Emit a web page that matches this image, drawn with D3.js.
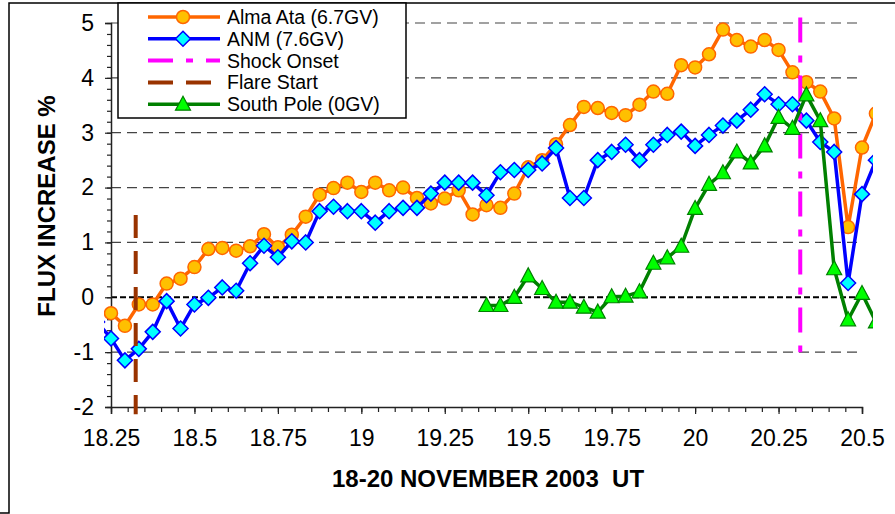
<!DOCTYPE html>
<html>
<head>
<meta charset="utf-8">
<script src="https://cdn.jsdelivr.net/npm/d3@7"></script>
<style>
  body { margin: 0; background: #fff; }
  svg { display: block; }
</style>
</head>
<body>
<div id="chart"></div>
<script>
// hourly samples, hours counted from 18 Nov 2003 00:00 UT
const utHours = [5, 6, 7, 8, 9, 10, 11, 12, 13, 14, 15, 16, 17, 18, 19, 20, 21, 22, 23, 24,
  25, 26, 27, 28, 29, 30, 31, 32, 33, 34, 35, 36, 37, 38, 39, 40, 41, 42, 43, 44,
  45, 46, 47, 48, 49, 50, 51, 52, 53, 54, 55, 56, 57, 58, 59, 60, 61];

const almaAta = [null, -0.29, -0.52, -0.13, -0.13, 0.25, 0.34, 0.55, 0.88, 0.90, 0.85,
  0.93, 1.15, 0.91, 1.14, 1.47, 1.87, 1.99, 2.09, 1.92, 2.09,
  1.95, 2.00, 1.81, 1.71, 1.80, 1.95, 1.51, 1.68, 1.63, 1.89,
  2.37, 2.50, 2.79, 3.14, 3.47, 3.45, 3.36, 3.32, 3.51, 3.75,
  3.71, 4.23, 4.19, 4.43, 4.88, 4.69, 4.57, 4.69, 4.51, 4.10,
  3.92, 3.75, 3.26, 1.28, 2.73, 3.35];

const anm = [-0.45, -0.75, -1.15, -0.94, -0.63, -0.07, -0.57, -0.13, -0.01, 0.18, 0.12,
  0.62, 0.94, 0.73, 1.02, 1.00, 1.57, 1.65, 1.57, 1.57, 1.36,
  1.57, 1.63, 1.63, 1.89, 2.09, 2.09, 2.09, 1.86, 2.28, 2.32,
  2.32, 2.44, 2.72, 1.81, 1.81, 2.50, 2.65, 2.78, 2.50, 2.78,
  2.96, 3.02, 2.76, 2.96, 3.13, 3.22, 3.42, 3.70, 3.52, 3.52,
  3.22, 2.83, 2.65, 0.26, 1.88, 2.50];

const southPole = [null, null, null, null, null, null, null, null, null, null, null,
  null, null, null, null, null, null, null, null, null, null,
  null, null, null, null, null, null, null, -0.15, -0.15, 0.00,
  0.39, 0.16, -0.09, -0.09, -0.18, -0.27, 0.01, 0.02, 0.10, 0.62,
  0.72, 0.93, 1.62, 2.06, 2.27, 2.65, 2.45, 2.76, 3.28, 3.08,
  3.69, 3.22, 0.52, -0.41, 0.07, -0.45];

// vertical event markers (x in days of Nov 2003, y extent in %)
const eventNames = ['Shock Onset', 'Flare Start'];
const eventDays = [20.315, 18.324];
const eventTop = [5.1, 1.5];
const eventBottom = [-1.0, -2.13];

const xTicks = [18.25, 18.5, 18.75, 19, 19.25, 19.5, 19.75, 20, 20.25, 20.5];
const yTicks = [-2, -1, 0, 1, 2, 3, 4, 5];
const legendNames = ['Alma Ata (6.7GV)', 'ANM (7.6GV)', 'Shock Onset', 'Flare Start', 'South Pole (0GV)'];

const W = 895, H = 514;
const font = 'Arial, "Liberation Sans", sans-serif';

const svg = d3.select('#chart').append('svg')
  .attr('width', W).attr('height', H)
  .style('font-family', font);

const xScale = d3.scaleLinear().domain([18.25, 20.5]).range([111, 862]);
const yScale = d3.scaleLinear().domain([-2, 5]).range([407, 23]);
const xOf = i => xScale(18 + utHours[i] / 24);

// outer frame (cropped chart border)
svg.append('path')
  .attr('d', `M${W},3H9V513H0`)
  .attr('fill', 'none').attr('stroke', '#000').attr('stroke-width', 1.5);

// gridlines
svg.append('g').selectAll('line')
  .data(yTicks.filter(v => v !== 0 && v !== -2))
  .join('line')
    .attr('x1', xScale(18.25)).attr('x2', xScale(20.5))
    .attr('y1', d => yScale(d)).attr('y2', d => yScale(d))
    .attr('stroke', '#444').attr('stroke-width', 1.2)
    .attr('stroke-dasharray', '10,6');

svg.append('line')
  .attr('x1', xScale(18.25)).attr('x2', xScale(20.5))
  .attr('y1', yScale(0)).attr('y2', yScale(0))
  .attr('stroke', '#000').attr('stroke-width', 2)
  .attr('stroke-dasharray', '6,3');

// axes
const yAxis = svg.append('g')
  .attr('transform', `translate(${xScale(18.25)},0)`)
  .call(d3.axisLeft(yScale).tickValues(yTicks).tickSize(6).tickPadding(11).tickFormat(d => String(d)));
svg.append('g')
  .attr('transform', `translate(${xScale(18.25)},0)`)
  .call(d3.axisLeft(yScale).tickValues(d3.range(-2, 5.001, 0.2)).tickSize(4).tickFormat(''))
  .call(g => g.select('.domain').remove());

const xAxis = svg.append('g')
  .attr('transform', `translate(0,${yScale(-2)})`)
  .call(d3.axisBottom(xScale).tickValues(xTicks).tickSize(7).tickPadding(16).tickFormat(d => String(d)));
svg.append('g')
  .attr('transform', `translate(0,${yScale(-2)})`)
  .call(d3.axisBottom(xScale).tickValues(d3.range(18.25, 20.501, 0.05)).tickSize(5).tickFormat(''))
  .call(g => g.select('.domain').remove());

svg.selectAll('.tick line').attr('stroke', '#222').attr('stroke-width', 1.2);
svg.selectAll('.domain').attr('stroke', '#222').attr('stroke-width', 1.5);
[yAxis, xAxis].forEach(g => g.selectAll('text')
  .attr('font-size', 23).attr('font-family', font).attr('fill', '#000'));

// axis titles
svg.append('text')
  .attr('transform', 'translate(55,206) rotate(-90)')
  .attr('text-anchor', 'middle')
  .attr('font-size', 24).attr('font-weight', 'bold')
  .text('FLUX INCREASE %');

svg.append('text')
  .attr('x', 488).attr('y', 487)
  .attr('text-anchor', 'middle')
  .attr('font-size', 24).attr('font-weight', 'bold')
  .style('white-space', 'pre')
  .text('18-20 NOVEMBER 2003  UT');

// series
svg.append('clipPath').attr('id', 'plotclip')
  .append('rect').attr('x', 104).attr('y', 0).attr('width', 769).attr('height', 420);

const plot = svg.append('g').attr('clip-path', 'url(#plotclip)');

const line = vals => d3.line()
  .defined(i => vals[i] !== null)
  .x(i => xOf(i))
  .y(i => yScale(vals[i]));

const idx = d3.range(utHours.length);

const diamond = 'M0,-7.5L7.5,0L0,7.5L-7.5,0Z';
const triangle = 'M0,-8L7.5,6L-7.5,6Z';

function drawSeries(vals, color, marker) {
  const g = plot.append('g');
  g.append('path')
    .attr('d', line(vals)(idx))
    .attr('fill', 'none').attr('stroke', color).attr('stroke-width', 3.5)
    .attr('stroke-linejoin', 'round');
  const pts = idx.filter(i => vals[i] !== null);
  marker(g.selectAll('.m').data(pts).join('g')
    .attr('transform', i => `translate(${xOf(i)},${yScale(vals[i])})`));
}

const circleMarker = sel => sel.append('circle').attr('r', 6.5)
  .attr('fill', '#FFC000').attr('stroke', '#FF6600').attr('stroke-width', 1.5);
const diamondMarker = sel => sel.append('path').attr('d', diamond)
  .attr('fill', '#00FFFF').attr('stroke', '#0000FF').attr('stroke-width', 1.5);
const triangleMarker = sel => sel.append('path').attr('d', triangle)
  .attr('fill', '#00FF00').attr('stroke', '#008000').attr('stroke-width', 1.2);

drawSeries(almaAta, '#FF6600', circleMarker);
drawSeries(anm, '#0000FF', diamondMarker);

const eventColors = ['#FF00FF', '#993300'];
const eventDash = ['25,13,7,13', '23,13'];
eventDays.forEach((d, k) => {
  plot.append('line')
    .attr('x1', xScale(d)).attr('x2', xScale(d))
    .attr('y1', yScale(eventTop[k])).attr('y2', yScale(eventBottom[k]))
    .attr('stroke', eventColors[k]).attr('stroke-width', 4)
    .attr('stroke-dasharray', eventDash[k]);
});

drawSeries(southPole, '#008000', triangleMarker);

// legend
const legend = svg.append('g');
legend.append('rect')
  .attr('x', 118).attr('y', 3).attr('width', 288).attr('height', 115)
  .attr('fill', '#fff').attr('stroke', '#000').attr('stroke-width', 1.5);

const legendColors = ['#FF6600', '#0000FF', '#FF00FF', '#993300', '#008000'];
const legendDash = [null, null, '25,13,7,13', '25,13', null];
const legendMarkers = [circleMarker, diamondMarker, null, null, triangleMarker];

const rows = legend.selectAll('.row').data(legendNames).join('g')
  .attr('transform', (d, i) => `translate(0,${17 + i * 21.8})`);
rows.append('line')
  .attr('x1', 148).attr('x2', 220)
  .attr('stroke', (d, i) => legendColors[i])
  .attr('stroke-width', (d, i) => legendDash[i] ? 4 : 3.5)
  .attr('stroke-dasharray', (d, i) => legendDash[i]);
rows.each(function (d, i) {
  if (legendMarkers[i]) legendMarkers[i](d3.select(this).append('g').attr('transform', 'translate(183,0)'));
});
rows.append('text')
  .attr('x', 227).attr('y', 7)
  .attr('font-size', 19.5)
  .text(d => d);
</script>
</body>
</html>
